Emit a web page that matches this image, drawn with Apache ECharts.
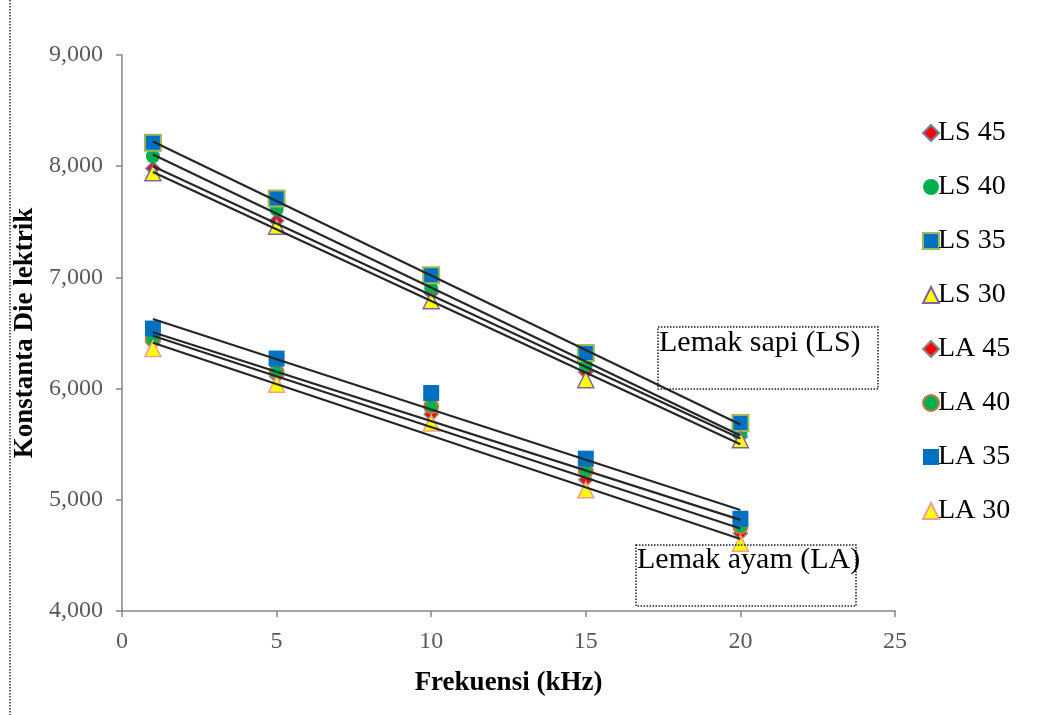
<!DOCTYPE html>
<html>
<head>
<meta charset="utf-8">
<script src="https://cdn.jsdelivr.net/npm/echarts@6/dist/echarts.min.js"></script>
<style>
html,body{margin:0;padding:0;background:#ffffff;}
#chart{width:1050px;height:715px;}
</style>
</head>
<body>
<div id="chart"></div>
<script>
// ---- data ----
const freq = [1, 5, 10, 15, 20];
const seriesNames = ['LS 45', 'LS 40', 'LS 35', 'LS 30', 'LA 45', 'LA 40', 'LA 35', 'LA 30'];
const ls45 = [7980, 7510, 6860, 6150, 5570];
const ls40 = [8090, 7610, 6900, 6210, 5600];
const ls35 = [8210, 7710, 7020, 6320, 5690];
const ls30 = [7940, 7460, 6790, 6080, 5540];
const la45 = [6420, 6110, 5770, 5180, 4700];
const la40 = [6440, 6150, 5840, 5260, 4760];
const la35 = [6540, 6270, 5960, 5370, 4830];
const la30 = [6360, 6040, 5690, 5090, 4610];
const yTicks = [4000, 5000, 6000, 7000, 8000, 9000];
const xTicks = [0, 5, 10, 15, 20, 25];

const allValues = [ls45, ls40, ls35, ls30, la45, la40, la35, la30];

// marker styles
const styles = [
  {symbol: 'diamond', size: 14, color: '#ff0000', border: '#7a7f9a', bw: 1.5},
  {symbol: 'circle', size: 14, color: '#00b050', border: '#00b050', bw: 0},
  {symbol: 'rect', size: 16, color: '#0070c0', border: '#9bbb59', bw: 2},
  {symbol: 'triangle', size: 16, color: '#ffff00', border: '#8064a2', bw: 1.5},
  {symbol: 'diamond', size: 14, color: '#ff0000', border: '#8a8a8a', bw: 1.5},
  {symbol: 'circle', size: 14, color: '#00b050', border: '#c07a3a', bw: 2},
  {symbol: 'rect', size: 16, color: '#0070c0', border: '#0070c0', bw: 0},
  {symbol: 'triangle', size: 16, color: '#ffff00', border: '#eba293', bw: 1.5}
];

function linFit(xs, ys) {
  const n = xs.length;
  const mx = xs.reduce((a, b) => a + b, 0) / n;
  const my = ys.reduce((a, b) => a + b, 0) / n;
  let sxy = 0, sxx = 0;
  for (let i = 0; i < n; i++) { sxy += (xs[i] - mx) * (ys[i] - my); sxx += (xs[i] - mx) * (xs[i] - mx); }
  const b = sxy / sxx, a = my - b * mx;
  return [[xs[0], a + b * xs[0]], [xs[n - 1], a + b * xs[n - 1]]];
}

const series = [];
allValues.forEach((vals, i) => {
  const s = styles[i];
  series.push({
    name: seriesNames[i],
    type: 'scatter',
    symbol: s.symbol,
    symbolSize: s.size,
    itemStyle: {color: s.color, borderColor: s.border, borderWidth: s.bw, opacity: 1},
    data: freq.map((f, j) => [f, vals[j]]),
    z: 2 + i * 0.01
  });
});
allValues.forEach((vals, i) => {
  series.push({
    name: seriesNames[i] + ' trend',
    type: 'line',
    showSymbol: false,
    symbol: 'none',
    silent: true,
    lineStyle: {color: '#262626', width: 2.2},
    data: linFit(freq, vals),
    z: 5
  });
});

const serif = '"Liberation Serif", "DejaVu Serif", serif';
const chart = echarts.init(document.getElementById('chart'));
chart.setOption({
  animation: false,
  backgroundColor: '#ffffff',
  grid: {left: 122, right: 155, top: 55, bottom: 104, containLabel: false},
  xAxis: {
    type: 'value', min: xTicks[0], max: xTicks[xTicks.length - 1], interval: 5,
    name: 'Frekuensi (kHz)', nameLocation: 'middle', nameGap: 59,
    nameTextStyle: {fontFamily: serif, fontWeight: 'bold', fontSize: 27, color: '#000'},
    axisLine: {show: true, onZero: false, lineStyle: {color: '#868686', width: 1.5}},
    axisTick: {show: true, length: 6, lineStyle: {color: '#868686', width: 1.5}},
    axisLabel: {fontFamily: serif, fontSize: 24, color: '#595959', margin: 19},
    splitLine: {show: false}
  },
  yAxis: {
    type: 'value', min: yTicks[0], max: yTicks[yTicks.length - 1], interval: 1000,
    name: 'Konstanta Die lektrik', nameLocation: 'middle', nameGap: 76,
    nameTextStyle: {fontFamily: serif, fontWeight: 'bold', fontSize: 27, color: '#000'},
    axisLine: {show: true, lineStyle: {color: '#868686', width: 1.5}},
    axisTick: {show: true, length: 6, lineStyle: {color: '#868686', width: 1.5}},
    axisLabel: {fontFamily: serif, fontSize: 24, color: '#595959', margin: 19,
      formatter: v => v.toLocaleString('en-US')},
    splitLine: {show: false}
  },
  legend: {
    orient: 'vertical', left: 917, top: 114,
    data: seriesNames,
    itemWidth: 16, itemHeight: 16, itemGap: 26,
    textStyle: {fontFamily: serif, fontSize: 28, color: '#000', padding: [0, 0, 0, -6]}
  },
  graphic: [
    {type: 'line', shape: {x1: 10, y1: 0, x2: 10, y2: 715},
     style: {stroke: '#333', lineWidth: 1.5, lineDash: [1.5, 1.5]}},
    {type: 'rect', shape: {x: 658, y: 327, width: 220, height: 62},
     style: {fill: 'rgba(255,255,255,0)', stroke: '#222', lineWidth: 1.5, lineDash: [1.5, 1.5]}, z: 10},
    {type: 'text', left: 659, top: 328, z: 11,
     style: {text: 'Lemak sapi (LS)', font: '30px ' + serif, fill: '#000'}},
    {type: 'rect', shape: {x: 636, y: 545, width: 220, height: 61},
     style: {fill: 'rgba(255,255,255,0)', stroke: '#222', lineWidth: 1.5, lineDash: [1.5, 1.5]}, z: 10},
    {type: 'text', left: 637, top: 545, z: 11,
     style: {text: 'Lemak ayam (LA)', font: '30px ' + serif, fill: '#000'}}
  ],
  series: series
});
</script>
</body>
</html>
